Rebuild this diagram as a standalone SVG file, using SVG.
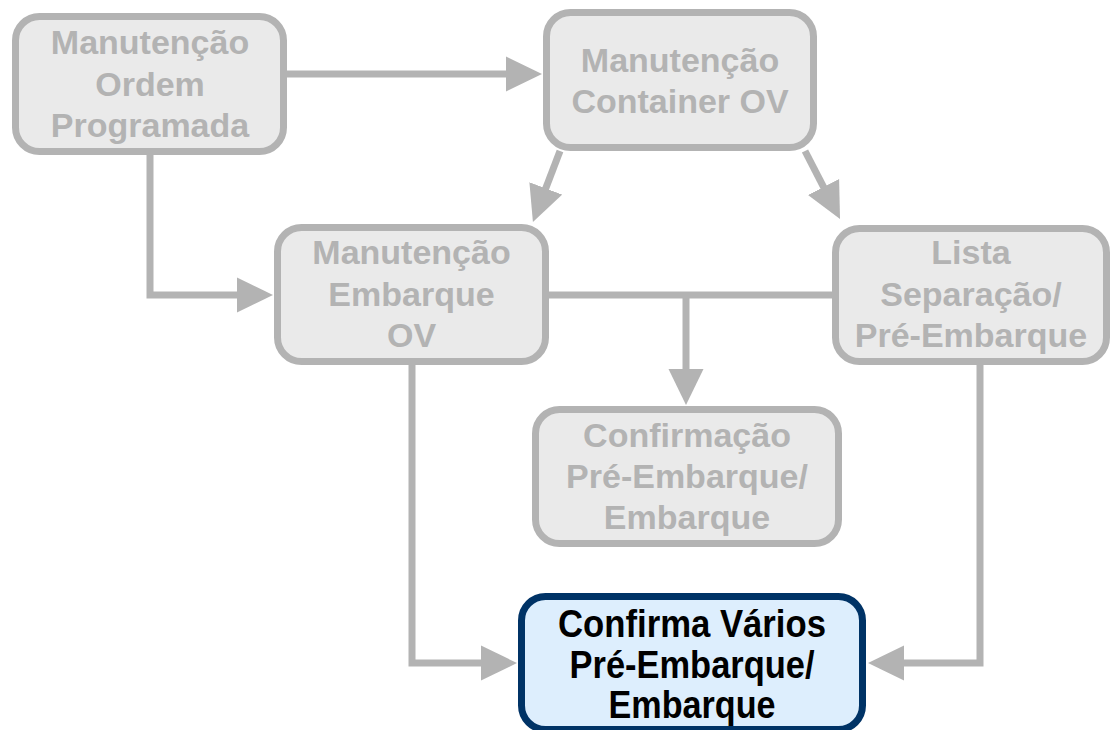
<svg xmlns="http://www.w3.org/2000/svg" width="1113" height="730" viewBox="0 0 1113 730">
<style>
.box{fill:#EAEAEA;stroke:#B3B3B3;stroke-width:7}
.hl{fill:#DDEEFD;stroke:#003366;stroke-width:7}
.t{font-family:"Liberation Sans",Arial,sans-serif;font-weight:bold;font-size:34px;text-anchor:middle;fill:#B3B3B3}
.tk{fill:#000000;font-size:38px}
.c{fill:none;stroke:#B3B3B3;stroke-width:7}
</style>
<defs>
<marker id="ah" markerUnits="userSpaceOnUse" markerWidth="37" markerHeight="36" refX="1" refY="17.5" orient="auto" viewBox="0 0 37 35">
<path d="M0,0 L36,17.5 L0,35 z" fill="#B3B3B3"/>
</marker>
</defs>
<g id="connectors">
<path class="c" d="M287,74 H507" marker-end="url(#ah)"/>
<path class="c" d="M150,155 V295 H238" marker-end="url(#ah)"/>
<path class="c" d="M560,151 L545.4,189.3" marker-end="url(#ah)"/>
<path class="c" d="M805,151 L824,187.9" marker-end="url(#ah)"/>
<path class="c" d="M549,295 H832"/>
<path class="c" d="M686,295 V370" marker-end="url(#ah)"/>
<path class="c" d="M412,365 V663 H482" marker-end="url(#ah)"/>
<path class="c" d="M980,365 V663 H903" marker-end="url(#ah)"/>
</g>
<g id="n1">
<rect class="box" x="15.5" y="16.5" width="268" height="135" rx="24"/>
<text class="t" x="150" y="54">Manutenção</text>
<text class="t" x="150" y="96">Ordem</text>
<text class="t" x="150" y="137">Programada</text>
</g>
<g id="n2">
<rect class="box" x="546.5" y="12.5" width="267" height="135" rx="24"/>
<text class="t" x="680" y="72">Manutenção</text>
<text class="t" x="680" y="113">Container OV</text>
</g>
<g id="n3">
<rect class="box" x="277.5" y="227.5" width="268" height="134" rx="24"/>
<text class="t" x="411.5" y="264">Manutenção</text>
<text class="t" x="411.5" y="306">Embarque</text>
<text class="t" x="411.5" y="347">OV</text>
</g>
<g id="n4">
<rect class="box" x="835.5" y="228.5" width="271" height="133" rx="24"/>
<text class="t" x="971" y="264">Lista</text>
<text class="t" x="971" y="306">Separação/</text>
<text class="t" x="971" y="347">Pré-Embarque</text>
</g>
<g id="n5">
<rect class="box" x="535.5" y="409.5" width="303" height="134" rx="24"/>
<text class="t" x="687" y="447">Confirmação</text>
<text class="t" x="687" y="488">Pré-Embarque/</text>
<text class="t" x="687" y="529">Embarque</text>
</g>
<g id="n6">
<rect class="hl" x="521.5" y="596.5" width="341" height="133" rx="24"/>
<text class="t tk" x="692" y="637" textLength="268" lengthAdjust="spacingAndGlyphs">Confirma Vários</text>
<text class="t tk" x="692" y="678" textLength="245" lengthAdjust="spacingAndGlyphs">Pré-Embarque/</text>
<text class="t tk" x="692" y="718" textLength="167" lengthAdjust="spacingAndGlyphs">Embarque</text>
</g>
</svg>
